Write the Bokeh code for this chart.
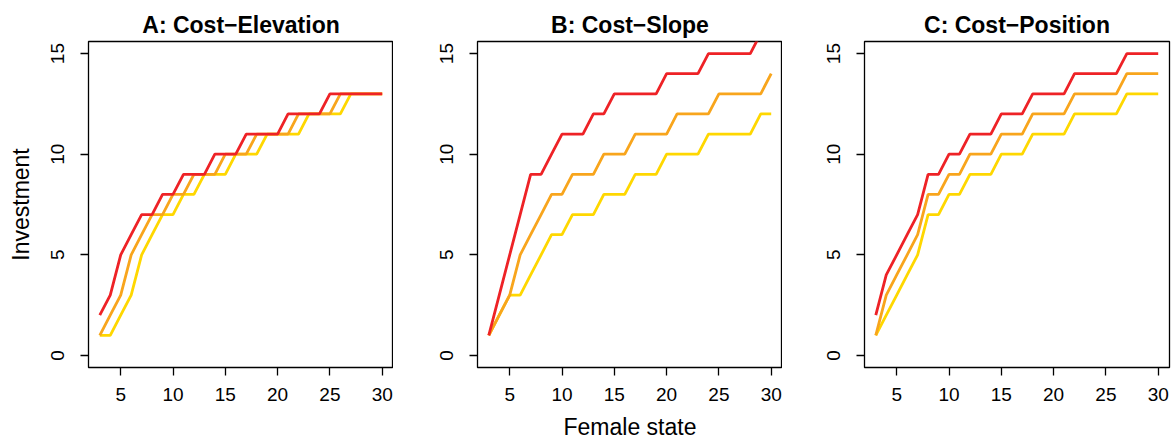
from bokeh.plotting import figure
from bokeh.layouts import row
from bokeh.models import Range1d, FixedTicker
from bokeh.embed import file_html
from bokeh.resources import INLINE

# ---- data ----
states = list(range(3, 31))

a_red    = [2, 3, 5, 6, 7, 7, 8, 8, 9, 9, 9, 10, 10, 10, 11, 11, 11, 11, 12, 12, 12, 12, 13, 13, 13, 13, 13, 13]
a_orange = [1, 2, 3, 5, 6, 7, 7, 8, 8, 9, 9, 9, 10, 10, 10, 11, 11, 11, 11, 12, 12, 12, 12, 13, 13, 13, 13, 13]
a_yellow = [1, 1, 2, 3, 5, 6, 7, 7, 8, 8, 9, 9, 9, 10, 10, 10, 11, 11, 11, 11, 12, 12, 12, 12, 13, 13, 13, 13]

b_red    = [1, 3, 5, 7, 9, 9, 10, 11, 11, 11, 12, 12, 13, 13, 13, 13, 13, 14, 14, 14, 14, 15, 15, 15, 15, 15, 16, 16]
b_orange = [1, 2, 3, 5, 6, 7, 8, 8, 9, 9, 9, 10, 10, 10, 11, 11, 11, 11, 12, 12, 12, 12, 13, 13, 13, 13, 13, 14]
b_yellow = [1, 2, 3, 3, 4, 5, 6, 6, 7, 7, 7, 8, 8, 8, 9, 9, 9, 10, 10, 10, 10, 11, 11, 11, 11, 11, 12, 12]

c_red    = [2, 4, 5, 6, 7, 9, 9, 10, 10, 11, 11, 11, 12, 12, 12, 13, 13, 13, 13, 14, 14, 14, 14, 14, 15, 15, 15, 15]
c_orange = [1, 3, 4, 5, 6, 8, 8, 9, 9, 10, 10, 10, 11, 11, 11, 12, 12, 12, 12, 13, 13, 13, 13, 13, 14, 14, 14, 14]
c_yellow = [1, 2, 3, 4, 5, 7, 7, 8, 8, 9, 9, 9, 10, 10, 10, 11, 11, 11, 11, 12, 12, 12, 12, 12, 13, 13, 13, 13]

titles = ["A: Cost\u2212Elevation", "B: Cost\u2212Slope", "C: Cost\u2212Position"]
x_ticks = [5, 10, 15, 20, 25, 30]
y_ticks = [0, 5, 10, 15]
x_label = "Female state"
y_label = "Investment"

series = [
    (a_yellow, a_orange, a_red),
    (b_yellow, b_orange, b_red),
    (c_yellow, c_orange, c_red),
]
colors = ["#FFD700", "#F8A51C", "#EE2226"]

FONT = "Liberation Sans"
left_borders = [88, 84, 82]
right_borders = [0, 0, 2]

figs = []
for i in range(3):
    p = figure(width=left_borders[i] + 305 + right_borders[i], height=439,
               frame_width=305, frame_height=326,
               output_backend="svg", toolbar_location=None,
               x_range=Range1d(1.92, 31.08), y_range=Range1d(-0.6, 15.6),
               min_border_left=left_borders[i], min_border_right=right_borders[i],
               min_border_top=41, min_border_bottom=72)
    p.title.text = titles[i]
    p.title.align = "center"
    p.title.text_font = FONT
    p.title.text_font_style = "bold"
    p.title.text_font_size = "23px"
    p.title.text_color = "black"
    p.title.standoff = 8

    p.grid.visible = False
    p.outline_line_color = "black"
    p.outline_line_width = 1.3
    p.background_fill_color = "white"
    p.border_fill_color = "white"

    for ax in (p.xaxis[0], p.yaxis[0]):
        ax.axis_line_color = None
        ax.major_tick_line_color = "black"
        ax.major_tick_line_width = 1.3
        ax.major_tick_in = 0
        ax.major_tick_out = 8
        ax.minor_tick_line_color = None
        ax.major_label_text_font = FONT
        ax.major_label_text_font_size = "19px"
        ax.major_label_text_color = "black"
        ax.axis_label_text_font = FONT
        ax.axis_label_text_font_style = "normal"
        ax.axis_label_text_font_size = "23px"
        ax.axis_label_text_color = "black"

    p.xaxis.ticker = FixedTicker(ticks=x_ticks)
    p.yaxis.ticker = FixedTicker(ticks=y_ticks)
    p.xaxis.major_label_standoff = 12
    p.yaxis.major_label_standoff = 16
    p.yaxis.major_label_orientation = "vertical"

    if i == 0:
        p.yaxis.axis_label = y_label
        p.yaxis.axis_label_standoff = 15
    if i == 1:
        p.xaxis.axis_label = x_label
        p.xaxis.axis_label_standoff = 10

    for ys, col in zip(series[i], colors):
        p.line(states, ys, line_color=col, line_width=2.8)

    figs.append(p)

layout = row(*figs)
open("out.html", "w").write(file_html(layout, INLINE))
